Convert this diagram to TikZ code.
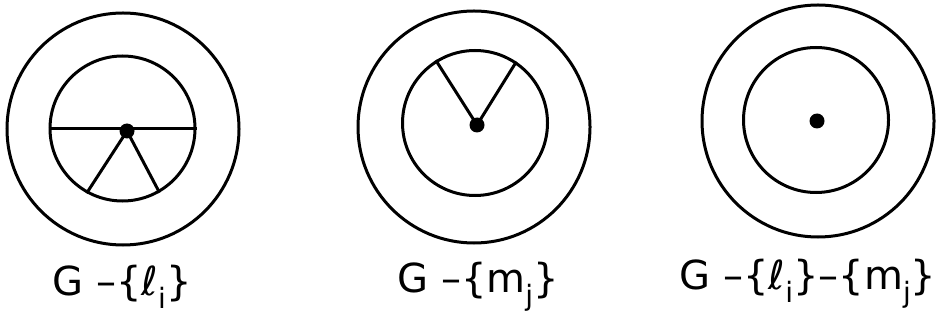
\documentclass[tikz,border=0pt]{standalone}
\usepackage{fontspec}
\setmainfont{DejaVu Sans}
\usetikzlibrary{positioning}
\tikzset{
  ring/.style={circle, draw=black, line width=1.5pt, minimum size=116pt, inner sep=0pt},
  disc/.style={circle, draw=black, line width=1.5pt, minimum size=72.5pt, inner sep=0pt},
  hub/.style={circle, fill=black, minimum size=7.5pt, inner sep=0pt},
  spoke/.style={line width=1.5pt},
  caption/.style={font=\fontsize{20}{22}\selectfont, inner sep=0pt}
}
\newcommand{\lowidx}[1]{\raisebox{-0.6ex}{\fontsize{14}{15}\selectfont #1}}

\begin{document}
\begin{tikzpicture}[x=0.5pt, y=-0.5pt]
\useasboundingbox (0,0) rectangle (946,320);

% left: G - {l_i}
\node (out1) [ring] at (123,129) {};
\node (in1) [disc] at (122.5,128.5) {};
\node (hub1) [hub] at (127,131) {};
\draw [spoke] (in1.west) -- (in1.east);
\draw [spoke] (hub1.center) -- (in1.241);
\draw [spoke] (hub1.center) -- (in1.300);
\node (lab1) [caption] at (122,287) {G –\{ℓ\lowidx{i}\}};

% middle: G - {m_j}
\node (out2) [ring] at (474,127) {};
\node (in2) [disc] at (475,123) {};
\node (hub2) [hub] at (477,125) {};
\draw [spoke] (hub2.center) -- (in2.122);
\draw [spoke] (hub2.center) -- (in2.56);
\node (lab2) [caption] at (478,287) {G –\{m\lowidx{j}\}};

% right: G - {l_i} - {m_j}
\node (out3) [ring] at (818,121) {};
\node (in3) [disc] at (816,120) {};
\node (hub3) [hub] at (817,121) {};
\node (lab3) [caption] at (808,284) {G –\{ℓ\lowidx{i}\}–\{m\lowidx{j}\}};

\end{tikzpicture}
\end{document}
